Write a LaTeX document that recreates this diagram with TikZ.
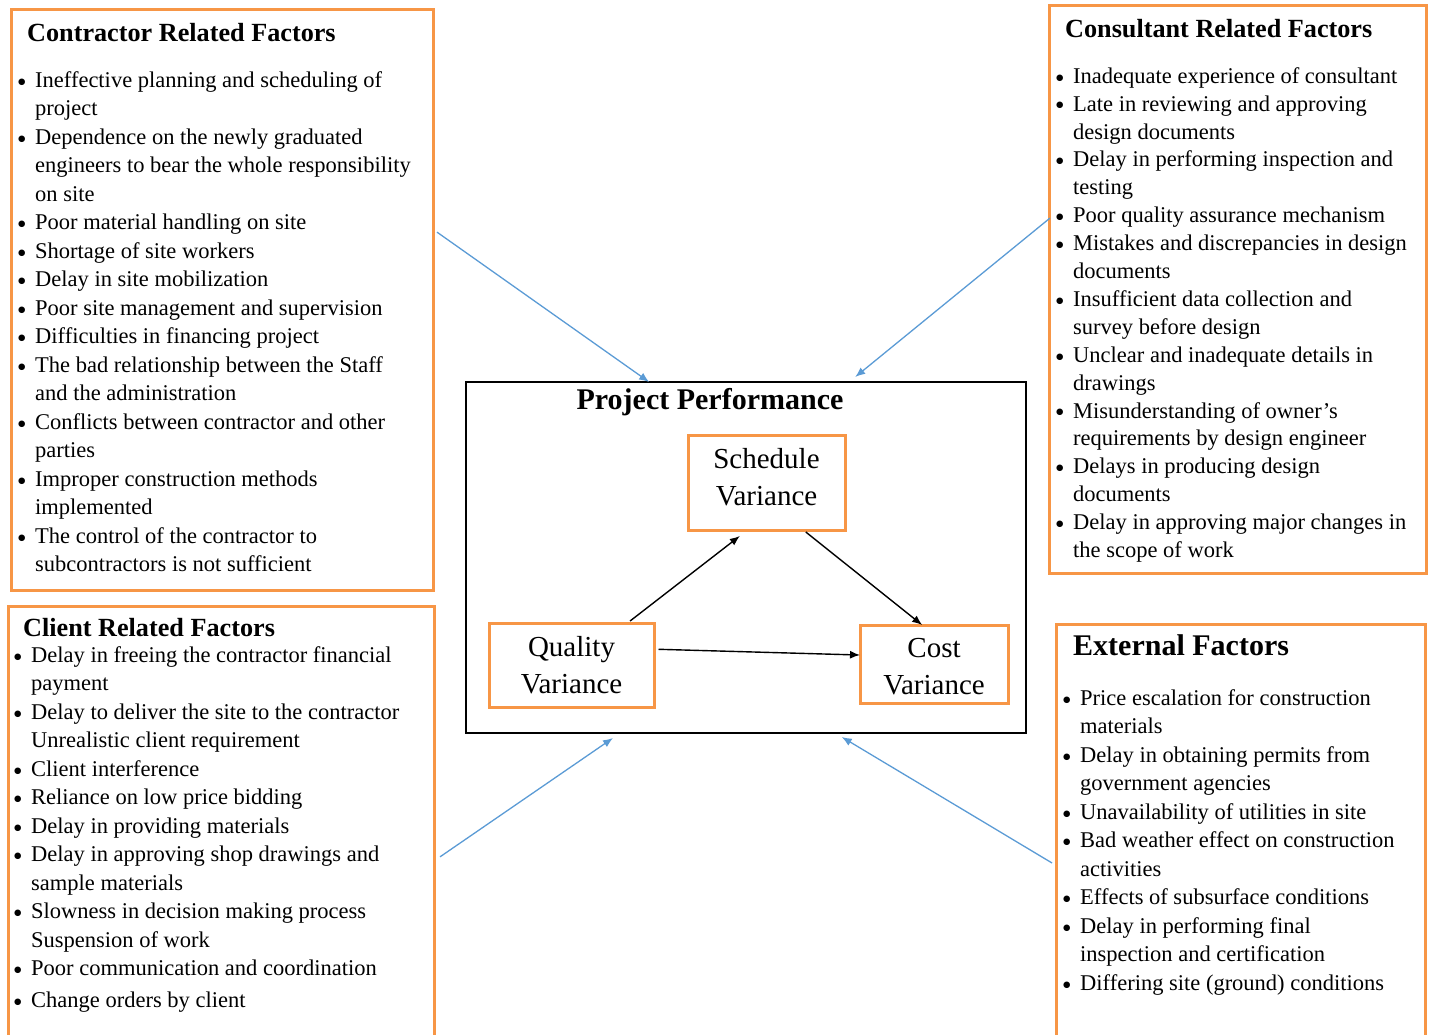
\documentclass[tikz,border=0pt]{standalone}
\usepackage{fontspec}
\setmainfont{Liberation Serif}
\newfontfamily\dotfont{DejaVu Sans}
\usetikzlibrary{arrows.meta,calc}
\definecolor{boxorange}{HTML}{F79646}
\definecolor{linkblue}{HTML}{5B9BD5}
% bulleted line and continuation line of a factor list
\newcommand\fitem{\strut\makebox[16pt][l]{\hspace*{-1pt}\raisebox{3.2pt}{\dotfont\fontsize{8.5}{9}\selectfont ●}}}
\newcommand\fcont{\strut\hspace*{16pt}}
\begin{document}
\begin{tikzpicture}[x=1pt,y=-1pt,
  factorbox/.style={draw=boxorange,line width=3pt,rectangle,inner sep=0pt,outer sep=0pt,anchor=north west},
  perfbox/.style={draw=black,line width=1.5pt,rectangle,inner sep=0pt,outer sep=0pt,anchor=north west},
  varbox/.style={draw=boxorange,line width=3pt,rectangle,inner sep=0pt,outer sep=0pt},
  vartext/.style={inner sep=0pt,align=center,font=\fontsize{29}{37}\selectfont},
  boxtitle/.style={anchor=base west,inner sep=0pt,font=\fontsize{26.2}{30}\selectfont\bfseries},
  bigtitle/.style={inner sep=0pt,font=\fontsize{30}{34}\selectfont\bfseries},
  itemlist/.style={anchor=north west,inner sep=0pt,align=left},
  influence/.style={draw=linkblue,line width=1.3pt,-{Latex[length=10pt,width=8pt]}},
  relation/.style={draw=black,line width=1.4pt,-{Latex[length=10pt,width=8pt]}}]

\useasboundingbox (0,0) rectangle (1429,1035);

% ---------- factor groups ----------
\node[factorbox,minimum width=422pt,minimum height=580pt] (contractor) at (11,10) {};
\node[boxtitle] (contractortitle) at (27,42) {Contractor Related Factors};
\node[itemlist,font=\fontsize{22.5}{28.5}\selectfont] (contractorlist) at (19,67.05) {%
\fitem Ineffective planning and scheduling of\\
\fcont project\\
\fitem Dependence on the newly graduated\\
\fcont engineers to bear the whole responsibility\\
\fcont on site\\
\fitem Poor material handling on site\\
\fitem Shortage of site workers\\
\fitem Delay in site mobilization\\
\fitem Poor site management and supervision\\
\fitem Difficulties in financing project\\
\fitem The bad relationship between the Staff\\
\fcont and the administration\\
\fitem Conflicts between contractor and other\\
\fcont parties\\
\fitem Improper construction methods\\
\fcont implemented\\
\fitem The control of the contractor to\\
\fcont subcontractors is not sufficient};

\node[factorbox,minimum width=377pt,minimum height=567pt] (consultant) at (1049,6) {};
\node[boxtitle] (consultanttitle) at (1065,37.5) {Consultant Related Factors};
\node[itemlist,font=\fontsize{22.5}{27.9}\selectfont] (consultantlist) at (1057,63.5) {%
\fitem Inadequate experience of consultant\\
\fitem Late in reviewing and approving\\
\fcont design documents\\
\fitem Delay in performing inspection and\\
\fcont testing\\
\fitem Poor quality assurance mechanism\\
\fitem Mistakes and discrepancies in design\\
\fcont documents\\
\fitem Insufficient data collection and\\
\fcont survey before design\\
\fitem Unclear and inadequate details in\\
\fcont drawings\\
\fitem Misunderstanding of owner’s\\
\fcont requirements by design engineer\\
\fitem Delays in producing design\\
\fcont documents\\
\fitem Delay in approving major changes in\\
\fcont the scope of work};

\node[factorbox,minimum width=426pt,minimum height=444pt] (client) at (8,606) {};
\node[boxtitle] (clienttitle) at (23,636) {Client Related Factors};
\node[itemlist,font=\fontsize{22.5}{28.5}\selectfont] (clientlist) at (15,642.05) {%
\fitem Delay in freeing the contractor financial\\
\fcont payment\\
\fitem Delay to deliver the site to the contractor\\
\fcont Unrealistic client requirement\\
\fitem Client interference\\
\fitem Reliance on low price bidding\\
\fitem Delay in providing materials\\
\fitem Delay in approving shop drawings and\\
\fcont sample materials\\
\fitem Slowness in decision making process\\
\fcont Suspension of work\\
\fitem Poor communication and coordination\\[3.5pt]
\fitem Change orders by client};

\node[factorbox,minimum width=369pt,minimum height=426pt] (external) at (1056,624) {};
\node[bigtitle,anchor=base west] (externaltitle) at (1073,655) {External Factors};
\node[itemlist,font=\fontsize{22.5}{28.5}\selectfont] (externallist) at (1064,685.05) {%
\fitem Price escalation for construction\\
\fcont materials\\
\fitem Delay in obtaining permits from\\
\fcont government agencies\\
\fitem Unavailability of utilities in site\\
\fitem Bad weather effect on construction\\
\fcont activities\\
\fitem Effects of subsurface conditions\\
\fitem Delay in performing final\\
\fcont inspection and certification\\
\fitem Differing site (ground) conditions};

% ---------- project performance ----------
\node[perfbox,minimum width=560pt,minimum height=351pt] (perf) at (466,382) {};
\node[bigtitle,anchor=base] (perftitle) at (710,409) {Project Performance};

\node[varbox,minimum width=157pt,minimum height=95pt] (schedule) at (766.5,482.5) {};
\node[varbox,minimum width=165pt,minimum height=84pt] (quality) at (571.5,665) {};
\node[varbox,minimum width=148pt,minimum height=78pt] (cost) at (934,664) {};
\node[vartext] (scheduletext) at ($(schedule.center)+(0,-3)$) {\strut Schedule\\\strut Variance};
\node[vartext] (qualitytext) at ($(quality.center)+(0,3)$) {\strut Quality\\\strut Variance};
\node[vartext] (costtext) at ($(cost.center)+(0,5)$) {\strut Cost\\\strut Variance};

\draw[relation] ($(quality.north west)!0.855!(quality.north east)+(0,-2)$) -- ($(schedule.south west)!0.33!(schedule.south east)+(0,6)$);
\draw[relation] ($(schedule.south west)!0.75!(schedule.south east)+(0,2)$) -- ($(cost.north west)!0.42!(cost.north east)$);
\draw[relation] ($(quality.north east)!0.313!(quality.south east)+(4.5,0)$) -- ($(cost.north west)!0.385!(cost.south west)$);

% ---------- influences on performance ----------
\draw[influence] ($(contractor.north east)!0.383!(contractor.south east)+(4,0)$) -- ($(perf.north west)!0.327!(perf.north east)$);
\draw[influence] ($(consultant.north west)!0.374!(consultant.south west)+(1,0)$) -- ($(perf.north west)!0.695!(perf.north east)+(0,-5)$);
\draw[influence] ($(client.north east)!0.565!(client.south east)+(6,0)$) -- ($(perf.south west)!0.2625!(perf.south east)+(0,5)$);
\draw[influence] ($(external.north west)!0.561!(external.south west)+(-4,0)$) -- ($(perf.south west)!0.671!(perf.south east)+(0,4)$);
\end{tikzpicture}
\end{document}
